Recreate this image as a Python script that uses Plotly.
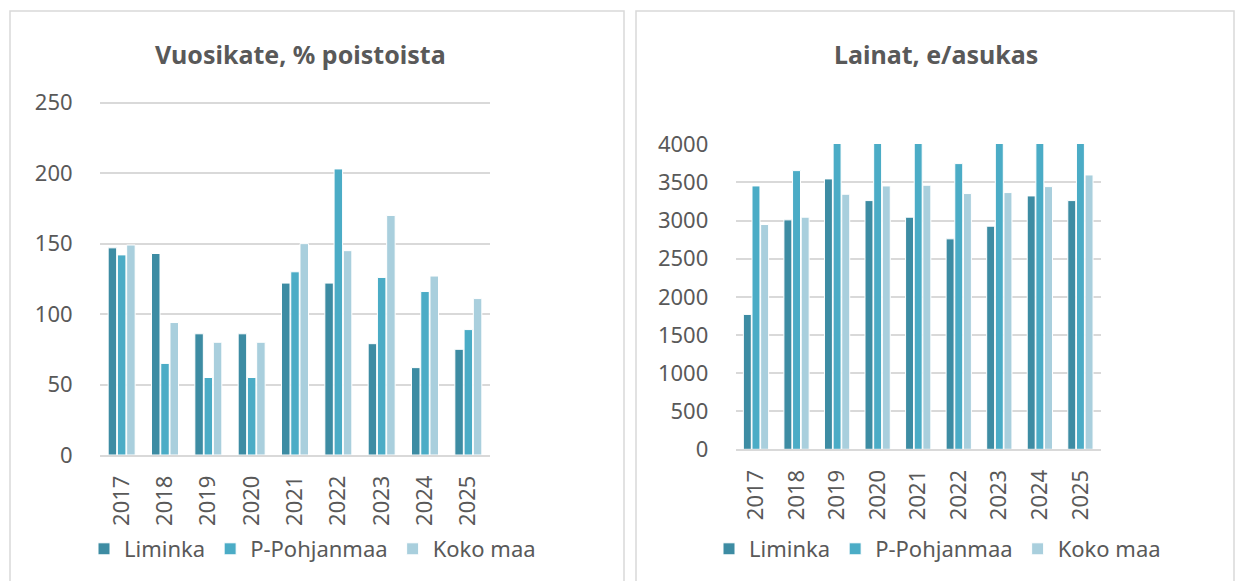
import plotly.graph_objects as go

years = ["2017", "2018", "2019", "2020", "2021", "2022", "2023", "2024", "2025"]
series_names = ["Liminka", "P-Pohjanmaa", "Koko maa"]
colors = ["#3d8ca3", "#4bacc6", "#a9cfdd"]

# Vuosikate, % poistoista
vk_liminka = [147, 143, 86, 86, 122, 122, 79, 62, 75]
vk_pohjanmaa = [142, 65, 55, 55, 130, 203, 126, 116, 89]
vk_kokomaa = [149, 94, 80, 80, 150, 145, 170, 127, 111]

# Lainat, e/asukas
la_liminka = [1769, 3009, 3546, 3262, 3044, 2760, 2926, 3323, 3262]
la_pohjanmaa = [3454, 3655, 4150, 4150, 4150, 3747, 4150, 4150, 4150]
la_kokomaa = [2948, 3044, 3345, 3454, 3463, 3354, 3367, 3445, 3598]

W, H = 1239, 581
FONT = "Noto Sans"
TXT = "#595959"
GRID = "#d9d9d9"

fig = go.Figure()

for name, vals, col in zip(series_names, [vk_liminka, vk_pohjanmaa, vk_kokomaa], colors):
    fig.add_trace(go.Bar(x=years, y=vals, name=name, marker_color=col,
                         marker_line_color="white", marker_line_width=1,
                         xaxis="x", yaxis="y", legend="legend"))
for name, vals, col in zip(series_names, [la_liminka, la_pohjanmaa, la_kokomaa], colors):
    fig.add_trace(go.Bar(x=years, y=vals, name=name, marker_color=col,
                         marker_line_color="white", marker_line_width=1,
                         xaxis="x2", yaxis="y2", legend="legend2"))

def px(x):
    return x / W

def py(y):
    return 1 - y / H

axis_common = dict(tickfont=dict(family=FONT, size=22, color=TXT), fixedrange=True,
                   automargin=False)

fig.update_layout(
    width=W, height=H,
    margin=dict(l=0, r=0, t=0, b=0, autoexpand=False),
    paper_bgcolor="white", plot_bgcolor="white",
    barmode="group", bargap=0.36, bargroupgap=0.08,
    font=dict(family=FONT, color=TXT),
    xaxis=dict(domain=[px(100), px(490)], anchor="y", tickangle=-90,
               showgrid=False, showline=True, linecolor=GRID, linewidth=1.5,
               ticks="outside", ticklen=10, tickcolor="rgba(0,0,0,0)", **axis_common),
    yaxis=dict(domain=[py(455), py(101.3)], anchor="x", range=[0, 251], dtick=50,
               showgrid=True, gridcolor=GRID, gridwidth=1.5, zeroline=False,
               ticks="outside", ticklen=22, tickcolor="rgba(0,0,0,0)", **axis_common),
    xaxis2=dict(domain=[px(735.7), px(1100.7)], anchor="y2", tickangle=-90,
                showgrid=False, showline=True, linecolor=GRID, linewidth=1.5,
                ticks="outside", ticklen=10, tickcolor="rgba(0,0,0,0)", **axis_common),
    yaxis2=dict(domain=[py(449.3), py(144)], anchor="x2", range=[0, 4004], dtick=500,
                showgrid=True, gridcolor=GRID, gridwidth=1.5, zeroline=False,
                ticks="outside", ticklen=22, tickcolor="rgba(0,0,0,0)", **axis_common),
    legend=dict(orientation="h", x=px(84), y=py(549), xanchor="left", yanchor="middle",
                xref="container", yref="container",
                font=dict(family=FONT, size=22, color=TXT), itemwidth=30,
                bgcolor="rgba(0,0,0,0)"),
    legend2=dict(orientation="h", x=px(709), y=py(549), xanchor="left", yanchor="middle",
                 xref="container", yref="container",
                 font=dict(family=FONT, size=22, color=TXT), itemwidth=30,
                 bgcolor="rgba(0,0,0,0)"),
    shapes=[
        dict(type="rect", xref="paper", yref="paper", x0=px(10), x1=px(624),
             y0=py(585), y1=py(11), line=dict(color=GRID, width=1.5), layer="below"),
        dict(type="rect", xref="paper", yref="paper", x0=px(636), x1=px(1234),
             y0=py(585), y1=py(11), line=dict(color=GRID, width=1.5), layer="below"),
    ],
    annotations=[
        dict(text="<b>Vuosikate, % poistoista</b>", xref="paper", yref="paper",
             x=px(300), y=py(54), xanchor="center", yanchor="middle", showarrow=False,
             font=dict(family=FONT, size=25, color=TXT)),
        dict(text="<b>Lainat, e/asukas</b>", xref="paper", yref="paper",
             x=px(936), y=py(54), xanchor="center", yanchor="middle", showarrow=False,
             font=dict(family=FONT, size=25, color=TXT)),
    ],
)

fig.write_html("out.html", config={"displayModeBar": False},
               post_script="document.body.style.margin='0';")
